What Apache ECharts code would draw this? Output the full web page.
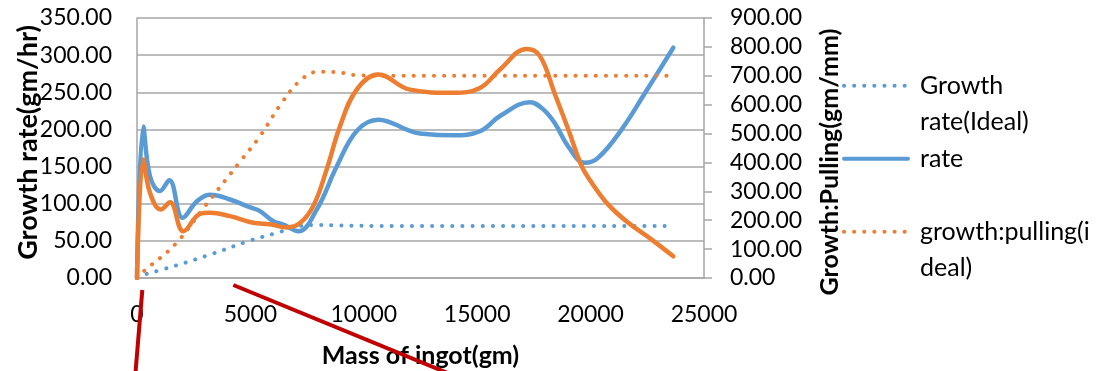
<!DOCTYPE html>
<html>
<head>
<meta charset="utf-8">
<script src="https://cdn.jsdelivr.net/npm/echarts@6/dist/echarts.min.js"></script>
<style>
html,body{margin:0;padding:0;background:#fff;}
#chart{width:1106px;height:371px;}
</style>
</head>
<body>
<div id="chart"></div>
<script>
// ---- data ----
var xAxisName = 'Mass of ingot(gm)';
var leftAxisName = 'Growth rate(gm/hr)';
var rightAxisName = 'Growth:Pulling(gm/mm)';
var seriesNames = ['Growth rate(Ideal)', 'rate', 'growth:pulling(ideal)', 'growth:pulling'];
// legend text as wrapped in the reference (blank first line keeps the icon on the first text line)
var legendLabels = ['\u00a0\nGrowth\nrate(Ideal)', '\u00a0\nrate\n\u00a0', '\u00a0\ngrowth:pulling(i\ndeal)'];

// Growth rate (Ideal) - left axis
var idealRateMass = [0, 1720, 3364, 4996, 6274, 7112, 7994, 8951, 10714, 23646];
var idealRateVals = [2, 16.8, 33, 50.5, 61.7, 69.7, 71.5, 70.8, 70, 70];

// rate - left axis
var rateMass = [0, 278, 573, 1014, 1424, 2015, 2632, 3219, 4100, 4996, 5423, 6009, 6450, 7112, 7923, 8805, 9687, 10639, 12037, 12478, 13946, 15123, 16004, 17327, 17914, 18430, 19017, 19752, 20339, 21371, 22398, 23646];
var rateVals = [0, 204, 137, 117, 131.6, 81, 103, 112, 105.7, 95, 90, 76.5, 72, 63, 92, 150, 198, 213, 198, 194.5, 192, 197.6, 218, 236.7, 227, 208, 177, 155, 162, 200, 249, 310];

// growth:pulling (ideal) - right axis
var idealPullMass = [0, 353, 1676, 2998, 4616, 5423, 6380, 7218, 7994, 8876, 9687, 11596, 23646];
var idealPullVals = [0, 27, 116, 249, 410, 491, 606, 685, 714, 712, 702, 700, 700];

// growth:pulling (actual) - right axis
var pullMass = [0, 278, 573, 1045, 1455, 2041, 2778, 3219, 4100, 5128, 5864, 6600, 7187, 7773, 8364, 8950, 9687, 10639, 12037, 13946, 15123, 16004, 17182, 17769, 18430, 19017, 19607, 20048, 20780, 21662, 22693, 23646];
var pullVals = [0, 410, 295, 237, 262, 162, 222, 226, 214, 191, 186, 175, 190, 249, 376, 525, 652, 704, 652, 641, 658, 722, 793, 768, 635, 514, 387, 330, 254, 191, 133, 75];

// axis ticks
var xMin = 0, xMax = 25000, xInterval = 5000;
var leftMin = 0, leftMax = 350, leftInterval = 50;
var rightMin = 0, rightMax = 900, rightInterval = 100;

function pairs(xs, ys) { return xs.map(function (x, i) { return [x, ys[i]]; }); }

var BLUE = '#5B9BD5', ORANGE = '#ED7D31', GRID = '#a6a6a6';
var FONT = 'Lato';

var chart = echarts.init(document.getElementById('chart'), null, {renderer: 'canvas'});
var option = {
  animation: false,
  backgroundColor: '#fff',
  textStyle: {fontFamily: FONT, color: '#000'},
  grid: {left: 137, right: 402, top: 18, bottom: 93, containLabel: false, outerBoundsMode: 'none'},
  xAxis: {
    type: 'value', min: xMin, max: xMax, interval: xInterval,
    name: xAxisName, nameLocation: 'middle', nameGap: 65, nameMoveOverlap: false,
    nameTextStyle: {fontFamily: FONT, fontWeight: 'bold', fontSize: 25, color: '#000'},
    axisLine: {show: true, lineStyle: {color: GRID, width: 1.5}},
    axisTick: {show: false},
    splitLine: {show: false},
    axisLabel: {fontFamily: FONT, fontSize: 23, color: '#000', margin: 25,
      formatter: function (v) { return String(v); }}
  },
  yAxis: [{
    type: 'value', min: leftMin, max: leftMax, interval: leftInterval, position: 'left',
    name: leftAxisName, nameLocation: 'middle', nameGap: 95, nameRotate: 90, nameMoveOverlap: false,
    nameTextStyle: {fontFamily: FONT, fontWeight: 'bold', fontSize: 27, color: '#000', padding: [0, 0, 0, 11]},
    axisLine: {show: true, lineStyle: {color: GRID, width: 1.5}},
    axisTick: {show: false},
    splitLine: {show: true, lineStyle: {color: GRID, width: 1.5}},
    axisLabel: {fontFamily: FONT, fontSize: 23, color: '#000', margin: 25,
      formatter: function (v) { return v.toFixed(2); }}
  }, {
    type: 'value', min: rightMin, max: rightMax, interval: rightInterval, position: 'right',
    name: rightAxisName, nameLocation: 'middle', nameGap: 113, nameRotate: 90, nameMoveOverlap: false,
    nameTextStyle: {fontFamily: FONT, fontWeight: 'bold', fontSize: 25, color: '#000', padding: [0, 28, 0, 0]},
    axisLine: {show: true, lineStyle: {color: GRID, width: 1.5}},
    axisTick: {show: true, inside: false, length: 8, lineStyle: {color: GRID, width: 1.5}},
    splitLine: {show: false},
    axisLabel: {fontFamily: FONT, fontSize: 23, color: '#000', margin: 26,
      formatter: function (v) { return v.toFixed(2); }}
  }],
  legend: {
    orient: 'vertical', left: 842, top: 31, padding: 0,
    itemWidth: 64, itemHeight: 10, itemGap: -36.5,
    data: seriesNames.slice(0, 3),
    formatter: function (name) { return legendLabels[seriesNames.indexOf(name)]; },
    itemStyle: {opacity: 0},
    lineStyle: {width: 4},
    textStyle: {fontFamily: FONT, fontSize: 25, color: '#000', lineHeight: 36.5, padding: [0, 0, 0, 7]}
  },
  series: [{
    name: seriesNames[0], type: 'line', yAxisIndex: 0, smooth: 0.4, symbol: 'none',
    data: pairs(idealRateMass, idealRateVals),
    lineStyle: {color: BLUE, width: 4, type: [0.1, 10], cap: 'round'},
    itemStyle: {color: BLUE}
  }, {
    name: seriesNames[1], type: 'line', yAxisIndex: 0, smooth: 0.4, symbol: 'none',
    data: pairs(rateMass, rateVals),
    lineStyle: {color: BLUE, width: 4.5, cap: 'round'},
    itemStyle: {color: BLUE}
  }, {
    name: seriesNames[2], type: 'line', yAxisIndex: 1, smooth: 0.4, symbol: 'none',
    data: pairs(idealPullMass, idealPullVals),
    lineStyle: {color: ORANGE, width: 4, type: [0.1, 10], cap: 'round'},
    itemStyle: {color: ORANGE}
  }, {
    name: seriesNames[3], type: 'line', yAxisIndex: 1, smooth: 0.4, symbol: 'none',
    data: pairs(pullMass, pullVals),
    lineStyle: {color: ORANGE, width: 4.5, cap: 'round'},
    itemStyle: {color: ORANGE}
  }],
  graphic: [
    {type: 'line', z: 100, shape: {x1: 142.3, y1: 290, x2: 135.3, y2: 375}, style: {stroke: '#C00000', lineWidth: 4}},
    {type: 'line', z: 100, shape: {x1: 233.3, y1: 285, x2: 450, y2: 374}, style: {stroke: '#C00000', lineWidth: 4}}
  ]
};
chart.setOption(option);
</script>
</body>
</html>
